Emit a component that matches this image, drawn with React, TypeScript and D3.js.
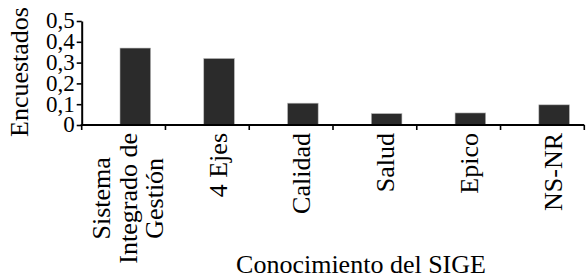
import React, {useEffect, useRef} from 'react';
import * as d3 from 'd3';

const categories = ['Sistema Integrado de Gestión', '4 Ejes', 'Calidad', 'Salud', 'Epico', 'NS-NR'];
const categoryLines = [['Sistema', 'Integrado de', 'Gestión'], ['4 Ejes'], ['Calidad'], ['Salud'], ['Epico'], ['NS-NR']];
const values = [0.37, 0.32, 0.105, 0.055, 0.058, 0.097];
const yTicks = [0, 0.1, 0.2, 0.3, 0.4, 0.5];

const WIDTH = 586;
const HEIGHT = 280;
const FONT = '"Liberation Serif", "Times New Roman", serif';

const App: React.FC = () => {
    const svgRef = useRef<SVGSVGElement | null>(null);

    useEffect(() => {
        if (svgRef.current) {
            drawChart();
        }
    }, []);

    const drawChart = () => {
        const svg = d3.select(svgRef.current);
        svg.selectAll('*').remove();

        const left = 81.7;
        const right = 584.3;
        const top = 21;
        const bottom = 125;

        const x = d3.scaleBand<string>().domain(categories).range([left, right]);
        const y = d3.scaleLinear().domain([0, 0.5]).range([bottom, top]);
        const bw = x.bandwidth();

        const locale = d3.formatLocale({decimal: ',', thousands: '.', grouping: [3], currency: ['', '']});
        const fmt = locale.format('~g');

        // bars
        svg.append('g')
            .selectAll('rect')
            .data(values)
            .enter()
            .append('rect')
            .attr('x', (d, i) => (x(categories[i]) as number) + bw * 0.457)
            .attr('width', bw * 0.366)
            .attr('y', (d) => y(d))
            .attr('height', (d) => y(0) - y(d))
            .attr('fill', '#2b2b2b')
            .attr('stroke', '#bdbdbd')
            .attr('stroke-width', 0.6);

        // y axis
        const yAxis = svg.append('g')
            .attr('transform', `translate(${left},0)`)
            .call(d3.axisLeft(y).tickValues(yTicks).tickSize(5).tickSizeOuter(0).tickPadding(2).tickFormat((d) => fmt(d as number)));
        yAxis.select('.domain').attr('stroke', '#000').attr('stroke-width', 2);
        yAxis.selectAll('.tick line').attr('stroke', '#000').attr('stroke-width', 1.6);
        yAxis.selectAll('.tick text')
            .attr('fill', '#000')
            .attr('dy', '0.3em')
            .style('font-family', FONT)
            .style('font-size', '23px');

        // x axis (ticks on band boundaries)
        const xAxis = svg.append('g');
        xAxis.append('line')
            .attr('x1', left - 1)
            .attr('x2', right)
            .attr('y1', bottom)
            .attr('y2', bottom)
            .attr('stroke', '#000')
            .attr('stroke-width', 2);
        const boundaries = categories.map((c) => x(c) as number).concat([right]);
        xAxis.selectAll('.xtick')
            .data(boundaries)
            .enter()
            .append('line')
            .attr('x1', (d) => d)
            .attr('x2', (d) => d)
            .attr('y1', bottom)
            .attr('y2', bottom + 5)
            .attr('stroke', '#000')
            .attr('stroke-width', 1.6);

        // category labels, rotated; multi-line one is a centred block
        const labelTop = 133;
        const lineGap = 26.5;
        categoryLines.forEach((lines, i) => {
            const cx = (x(categories[i]) as number) + bw * 0.457 + bw * 0.183;
            const g = svg.append('g');
            const texts = g.selectAll('text')
                .data(lines)
                .enter()
                .append('text')
                .style('font-family', FONT)
                .style('font-size', '26px')
                .attr('fill', '#000')
                .text((d) => d);
            const lens = texts.nodes().map((n) => (n as SVGTextElement).getComputedTextLength());
            const maxLen = d3.max(lens) || 0;
            const shift = lines.length > 1 ? 1.5 : 7.5;
            texts
                .attr('text-anchor', 'middle')
                .attr('transform', (d, j) => {
                    const bx = cx + shift + (j - (lines.length - 1) / 2) * lineGap;
                    return `translate(${bx},${labelTop + maxLen / 2}) rotate(-90)`;
                });
        });

        // axis titles
        svg.append('text')
            .attr('transform', `translate(28,72) rotate(-90)`)
            .attr('text-anchor', 'middle')
            .style('font-family', FONT)
            .style('font-size', '26px')
            .attr('fill', '#000')
            .text('Encuestados');

        svg.append('text')
            .attr('x', 361)
            .attr('y', 273)
            .attr('text-anchor', 'middle')
            .style('font-family', FONT)
            .style('font-size', '26px')
            .attr('fill', '#000')
            .text('Conocimiento del SIGE');
    };

    return (
        <svg
            ref={svgRef}
            width={WIDTH}
            height={HEIGHT}
            style={{position: 'absolute', left: 0, top: 0, background: '#fff'}}
        />
    );
};

export default App;
